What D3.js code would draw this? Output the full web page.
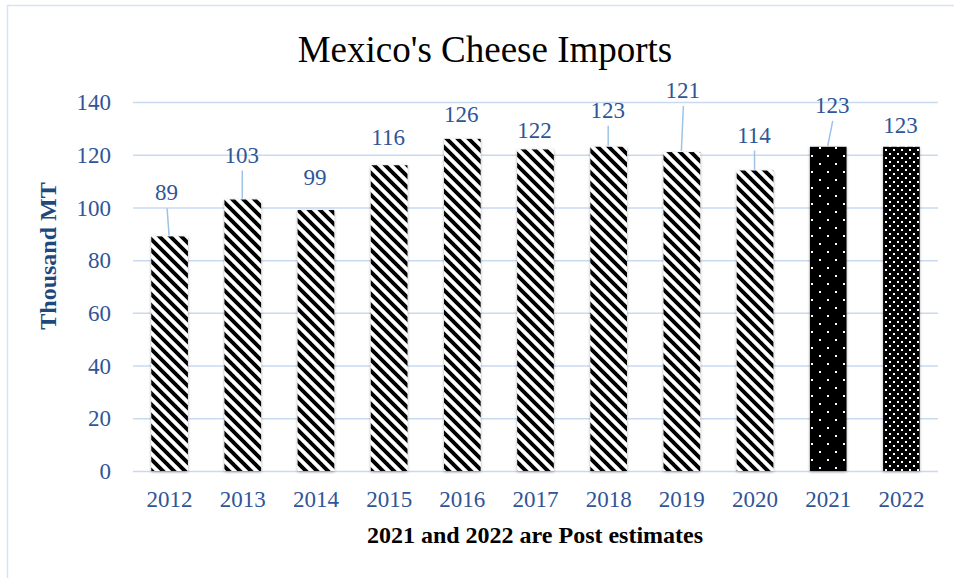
<!DOCTYPE html>
<html>
<head>
<meta charset="utf-8">
<script src="https://cdn.jsdelivr.net/npm/d3@7"></script>
<style>
  html, body { margin: 0; padding: 0; background: #fff; }
  svg { display: block; }
</style>
</head>
<body>
<svg id="chart" width="954" height="578"></svg>
<script>
// ---- data ----
const years = ["2012","2013","2014","2015","2016","2017","2018","2019","2020","2021","2022"];
const imports = [89, 103, 99, 116, 126, 122, 123, 121, 114, 123, 123];
const kinds = ["actual","actual","actual","actual","actual","actual","actual","actual","actual","estimate1","estimate2"];
const yTicks = [0, 20, 40, 60, 80, 100, 120, 140];
// label layout (pixel lift of label baseline above bar top, and label x shift)
const labelLift = [36, 37, 25, 20, 17, 11, 29, 54, 28, 34, 14];
const labelShift = [-2, 0, 0, 0, 0, 0, 0, 2, 0, 5, 0];
const hasLeader = [true, true, false, false, false, false, true, true, true, true, false];

const svg = d3.select("#chart");
const blue = "#2F5597";
const grid = "#C9DAF0";
const serif = "'Liberation Serif', 'Times New Roman', serif";

// frame
svg.append("rect").attr("x", 7.5).attr("y", 5.5).attr("width", 960).attr("height", 600)
  .attr("fill", "#fff").attr("stroke", "#D6E3F3").attr("stroke-width", 1.5);

const defs = svg.append("defs");
// diagonal stripes
const P = 11;
const stripe = defs.append("pattern").attr("id", "stripes")
  .attr("patternUnits", "userSpaceOnUse").attr("width", P).attr("height", P);
stripe.append("rect").attr("width", P).attr("height", P).attr("fill", "#fff");
stripe.append("path").attr("d", `M0,0 L${P},${P} M${-P/2},${P/2} L${P/2},${P*1.5} M${P/2},${-P/2} L${P*1.5},${P/2}`)
  .attr("stroke", "#000").attr("stroke-width", 3.9).attr("fill", "none");
// sparse dots
const dots1 = defs.append("pattern").attr("id", "dots1")
  .attr("patternUnits", "userSpaceOnUse").attr("width", 16).attr("height", 16);
dots1.append("rect").attr("width", 16).attr("height", 16).attr("fill", "#000");
dots1.append("rect").attr("x", 3).attr("y", 3).attr("width", 2).attr("height", 2).attr("fill", "#fff");
dots1.append("rect").attr("x", 11).attr("y", 11).attr("width", 2).attr("height", 2).attr("fill", "#fff");
// denser dots
const dots2 = defs.append("pattern").attr("id", "dots2")
  .attr("patternUnits", "userSpaceOnUse").attr("width", 8).attr("height", 8);
dots2.append("rect").attr("width", 8).attr("height", 8).attr("fill", "#000");
dots2.append("rect").attr("x", 1).attr("y", 1).attr("width", 2).attr("height", 2).attr("fill", "#fff");
dots2.append("rect").attr("x", 5).attr("y", 5).attr("width", 2).attr("height", 2).attr("fill", "#fff");
// shadow
const f = defs.append("filter").attr("id", "shadow").attr("x", "-30%").attr("y", "-10%").attr("width", "160%").attr("height", "125%");
f.append("feDropShadow").attr("dx", 0).attr("dy", 1).attr("stdDeviation", 1.8)
  .attr("flood-color", "#000").attr("flood-opacity", 0.35);

const fillFor = { actual: "url(#stripes)", estimate1: "url(#dots1)", estimate2: "url(#dots2)" };

// scales
const x = d3.scaleBand().domain(years).range([133, 938]).paddingInner(0.5).paddingOuter(0.25);
const y = d3.scaleLinear().domain([0, 140]).range([471, 102]);

// gridlines
svg.append("g").selectAll("line").data(yTicks).join("line")
  .attr("x1", 133).attr("x2", 938)
  .attr("y1", d => y(d) + 0.5).attr("y2", d => y(d) + 0.5)
  .attr("stroke", grid).attr("stroke-width", 1.5);

// y axis labels
const yAxis = d3.axisLeft(y).tickValues(yTicks).tickSize(0).tickPadding(0).tickFormat(d3.format("d"));
const gy = svg.append("g").attr("transform", "translate(111,0)").call(yAxis);
gy.select(".domain").remove();
gy.selectAll("text").attr("font-family", serif).attr("font-size", 23).attr("fill", blue).attr("dy", "0.33em");

// x axis labels
const xAxis = d3.axisBottom(x).tickSize(0).tickPadding(0);
const gx = svg.append("g").attr("transform", "translate(0,507)").call(xAxis);
gx.select(".domain").remove();
gx.selectAll("text").attr("font-family", serif).attr("font-size", 23).attr("fill", blue).attr("y", 0).attr("dy", 0);

// bars
const data = years.map((yr, i) => ({ yr, v: imports[i], k: kinds[i], i }));
svg.append("g").selectAll("rect").data(data).join("rect")
  .attr("x", d => x(d.yr))
  .attr("y", d => y(d.v))
  .attr("width", x.bandwidth())
  .attr("height", d => y(0) - y(d.v))
  .attr("fill", d => fillFor[d.k])
  .attr("filter", "url(#shadow)");

// leader lines
svg.append("g").selectAll("line").data(data.filter(d => hasLeader[d.i])).join("line")
  .attr("x1", d => x(d.yr) + x.bandwidth() / 2 + labelShift[d.i] - 0.5)
  .attr("y1", d => y(d.v) - labelLift[d.i] + 8)
  .attr("x2", d => x(d.yr) + x.bandwidth() / 2 - 0.5)
  .attr("y2", d => y(d.v) - 1)
  .attr("stroke", "#9DC3E6").attr("stroke-width", 1.5);

// value labels
svg.append("g").selectAll("text").data(data).join("text")
  .attr("x", d => x(d.yr) + x.bandwidth() / 2 + labelShift[d.i] - 1)
  .attr("y", d => y(d.v) - labelLift[d.i])
  .attr("text-anchor", "middle")
  .attr("font-family", serif).attr("font-size", 23).attr("fill", blue)
  .text(d => d.v);

// title
svg.append("text").attr("x", 485).attr("y", 62).attr("text-anchor", "middle")
  .attr("font-family", serif).attr("font-size", 37).attr("fill", "#000")
  .text("Mexico's Cheese Imports");

// y axis title
svg.append("text").attr("transform", "translate(56,256) rotate(-90)")
  .attr("text-anchor", "middle").attr("font-family", serif).attr("font-size", 24)
  .attr("font-weight", "bold").attr("fill", "#1F497D")
  .text("Thousand MT");

// x axis title
svg.append("text").attr("x", 535).attr("y", 543).attr("text-anchor", "middle")
  .attr("font-family", serif).attr("font-size", 24).attr("font-weight", "bold").attr("fill", "#000")
  .text("2021 and 2022 are Post estimates");
</script>
</body>
</html>
